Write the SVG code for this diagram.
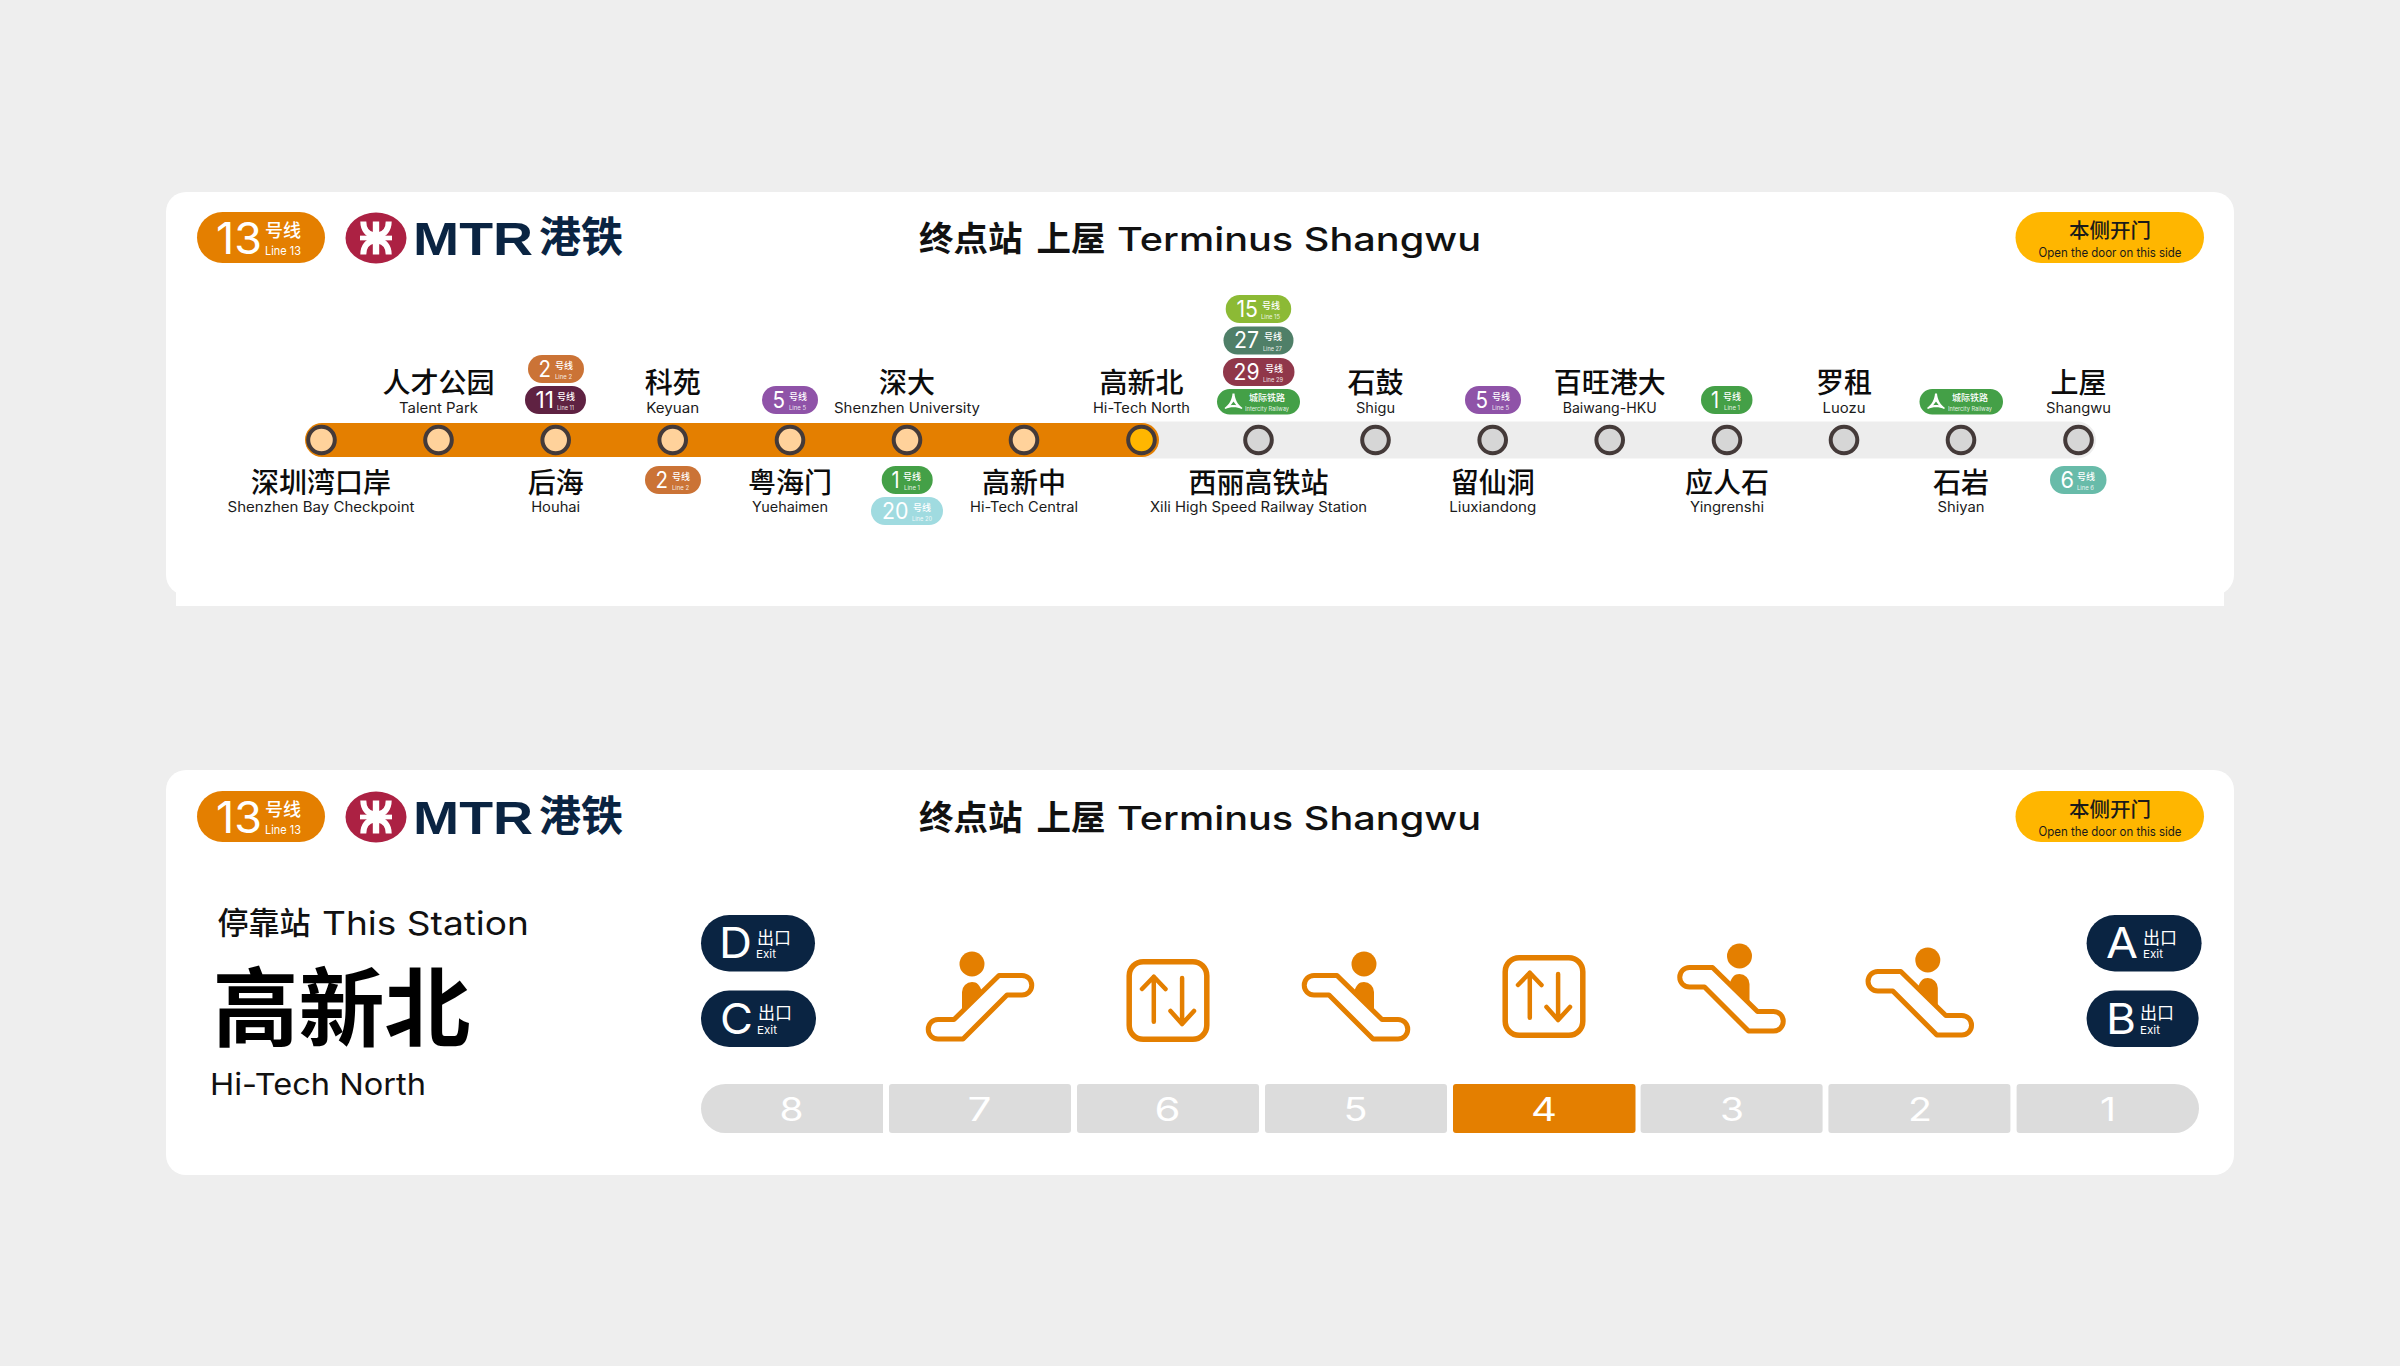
<svg xmlns="http://www.w3.org/2000/svg" width="2400" height="1366" viewBox="0 0 2400 1366">
<style>
.l{font-family:Inter,"Liberation Sans",sans-serif;font-weight:400}
.c{font-family:"Noto Sans CJK SC","Noto Sans",sans-serif;font-weight:500}
.cn{font-size:28px;fill:#0c0c0c;text-anchor:middle;font-weight:500}
.en{font-size:14px;fill:#1a1a1a;text-anchor:middle}
.bd{font-size:23px;fill:#fff}
.bc{font-size:9px;fill:#fff}
.bl{font-size:5.5px;fill:#fff;opacity:.85}
.st{stroke:#443a39;stroke-width:4}
.sa{fill:#ffd29b}.sg{fill:#d6d6d6}
.ex{fill:#0a2442}
.xl{font-size:43px;fill:#fff}
.xc{font-size:17px;fill:#fff;font-weight:400}
.xe{font-size:11px;fill:#fff}
.fl{fill:#dcdcdc}
.fn{font-size:32px;fill:#fff;text-anchor:middle}
.ic{fill:none;stroke:#e47f00;stroke-width:5;stroke-linejoin:round;stroke-linecap:round}
.if{fill:#e47f00}
</style>
<defs>
<g id="esc">
<path class="ic" d="M-42,19.5H-26L19,-24.5H42A9.75,9.75 0 0 1 42,-5H27L-17,39H-42A9.75,9.75 0 0 1 -42,19.5Z"/>
<ellipse class="if" cx="-8" cy="-36" rx="12.5" ry="12.5"/>
<path class="if" d="M-18,11V-8A10,10 0 0 1 -8,-18C-3,-18 0,-15 2.5,-7Z"/>
</g>
<g id="lift">
<rect class="ic" style="stroke-width:5.5" x="2.7" y="2.7" width="77.6" height="77.6" rx="14"/>
<path class="ic" style="stroke-width:4.5" d="M27.3,62.7V17.7M15.5,30L27.3,17.7L39,30M55.6,19V65M44,52L55.6,65L67.5,52"/>
</g>
<g id="logo">
<ellipse cx="0" cy="0" rx="30.5" ry="25.5" fill="#ac2143"/>
<path d="M0,-16.5V16.5" stroke="#fff" stroke-width="6.4" fill="none"/>
<path d="M-16,0H16" stroke="#fff" stroke-width="4.7" fill="none"/>
<path d="M-12.7,-16.5C-12.7,-8 -8,-3.5 -2,-2.5M12.7,-16.5C12.7,-8 8,-3.5 2,-2.5M-12.7,16.5C-12.7,8 -8,3.5 -2,2.5M12.7,16.5C12.7,8 8,3.5 2,2.5" stroke="#fff" stroke-width="6" fill="none"/>
</g>
<path id="ir" fill-rule="evenodd" fill="#fff" d="M-1,-8H1C1.5,-2 4,3 9,6.5L8,7.5C4,5 -4,5 -8,7.5L-9,6.5C-4,3 -1.5,-2 -1,-8ZM0,0L2.8,3.7C1,3.3 -1,3.3 -2.8,3.7Z"/>
</defs>
<rect width="2400" height="1366" fill="#eeeeee"/>

<g id="card-top">
<rect x="176" y="400" width="2048" height="206" fill="#fff"/>
<rect x="166" y="192" width="2068" height="403" rx="20" fill="#fff"/>
</g>
<g id="card-bottom">
<rect x="166" y="770" width="2068" height="405" rx="20" fill="#fff"/>
</g>

<g id="header-top">
<rect x="197" y="212" width="128" height="51" rx="25.5" fill="#e47f00"/>
<text class="l" x="216" y="254" font-size="44" fill="#fff" textLength="46" lengthAdjust="spacingAndGlyphs">13</text>
<text class="c" x="265" y="237" font-size="18" fill="#fff">号线</text>
<text class="l" x="265" y="255" font-size="12" fill="#fff" textLength="36" lengthAdjust="spacingAndGlyphs">Line 13</text>
<use href="#logo" x="376" y="238"/>
<text x="413" y="255" font-family="'Liberation Sans',sans-serif" font-weight="700" font-size="46" fill="#0a2442" textLength="120" lengthAdjust="spacingAndGlyphs">MTR</text>
<text class="c" x="539" y="252" font-size="42" fill="#0a2442" style="font-weight:700">港铁</text>
<text class="c" x="919" y="251" font-size="34.5" fill="#111" style="font-weight:700">终点站</text>
<text class="c" x="1036.5" y="251" font-size="34.5" fill="#111" style="font-weight:700">上屋</text>
<text class="l" x="1117" y="251" font-size="33" fill="#111" style="font-weight:500" textLength="364" lengthAdjust="spacingAndGlyphs">Terminus Shangwu</text>
<rect x="2015.5" y="212" width="188.5" height="51" rx="25.5" fill="#ffb600"/>
<text class="c" x="2110" y="238" font-size="20.5" fill="#1a1a1a" text-anchor="middle">本侧开门</text>
<text class="l" x="2110" y="256.5" font-size="12.5" fill="#1a1a1a" text-anchor="middle" textLength="143" lengthAdjust="spacingAndGlyphs">Open the door on this side</text>
</g>

<g id="connectors">
<rect x="1130" y="421.5" width="966" height="37" rx="18.5" fill="#ededed"/>
<rect x="305" y="423" width="854" height="34" rx="17" fill="#e47f00"/>
</g>

<g id="s1"><circle class="st sa" cx="321.5" cy="440" r="13.3"/><text class="c cn" x="321" y="492.5">深圳湾口岸</text><text class="l en" x="321" y="512" textLength="187" lengthAdjust="spacingAndGlyphs">Shenzhen Bay Checkpoint</text></g>
<g id="s2"><circle class="st sa" cx="438.5" cy="440" r="13.3"/><text class="c cn" x="438.5" y="393">人才公园</text><text class="l en" x="438.5" y="413" textLength="79" lengthAdjust="spacingAndGlyphs">Talent Park</text></g>
<g id="s3"><circle class="st sa" cx="555.7" cy="440" r="13.3"/><text class="c cn" x="555.7" y="492.5">后海</text><text class="l en" x="555.7" y="512" textLength="49" lengthAdjust="spacingAndGlyphs">Houhai</text></g>
<g id="s4"><circle class="st sa" cx="672.7" cy="440" r="13.3"/><text class="c cn" x="672.7" y="393">科苑</text><text class="l en" x="672.7" y="413" textLength="53" lengthAdjust="spacingAndGlyphs">Keyuan</text></g>
<g id="s5"><circle class="st sa" cx="790" cy="440" r="13.3"/><text class="c cn" x="790" y="492.5">粤海门</text><text class="l en" x="790" y="512" textLength="76" lengthAdjust="spacingAndGlyphs">Yuehaimen</text></g>
<g id="s6"><circle class="st sa" cx="907" cy="440" r="13.3"/><text class="c cn" x="907" y="393">深大</text><text class="l en" x="907" y="413" textLength="146" lengthAdjust="spacingAndGlyphs">Shenzhen University</text></g>
<g id="s7"><circle class="st sa" cx="1024" cy="440" r="13.3"/><text class="c cn" x="1024" y="492.5">高新中</text><text class="l en" x="1024" y="512" textLength="108" lengthAdjust="spacingAndGlyphs">Hi-Tech Central</text></g>
<g id="s8"><circle class="st" fill="#ffb600" cx="1141.5" cy="440" r="13.3"/><text class="c cn" x="1141.5" y="393">高新北</text><text class="l en" x="1141.5" y="413" textLength="97" lengthAdjust="spacingAndGlyphs">Hi-Tech North</text></g>
<g id="s9"><circle class="st sg" cx="1258.5" cy="440" r="13.3"/><text class="c cn" x="1258.5" y="492.5">西丽高铁站</text><text class="l en" x="1258.5" y="512" textLength="217" lengthAdjust="spacingAndGlyphs">Xili High Speed Railway Station</text></g>
<g id="s10"><circle class="st sg" cx="1375.5" cy="440" r="13.3"/><text class="c cn" x="1375.5" y="393">石鼓</text><text class="l en" x="1375.5" y="413" textLength="39" lengthAdjust="spacingAndGlyphs">Shigu</text></g>
<g id="s11"><circle class="st sg" cx="1492.7" cy="440" r="13.3"/><text class="c cn" x="1492.7" y="492.5">留仙洞</text><text class="l en" x="1492.7" y="512" textLength="87" lengthAdjust="spacingAndGlyphs">Liuxiandong</text></g>
<g id="s12"><circle class="st sg" cx="1609.7" cy="440" r="13.3"/><text class="c cn" x="1609.7" y="393">百旺港大</text><text class="l en" x="1609.7" y="413" textLength="94" lengthAdjust="spacingAndGlyphs">Baiwang-HKU</text></g>
<g id="s13"><circle class="st sg" cx="1727" cy="440" r="13.3"/><text class="c cn" x="1727" y="492.5">应人石</text><text class="l en" x="1727" y="512" textLength="74" lengthAdjust="spacingAndGlyphs">Yingrenshi</text></g>
<g id="s14"><circle class="st sg" cx="1844" cy="440" r="13.3"/><text class="c cn" x="1844" y="393">罗租</text><text class="l en" x="1844" y="413" textLength="43" lengthAdjust="spacingAndGlyphs">Luozu</text></g>
<g id="s15"><circle class="st sg" cx="1961" cy="440" r="13.3"/><text class="c cn" x="1961" y="492.5">石岩</text><text class="l en" x="1961" y="512" textLength="47" lengthAdjust="spacingAndGlyphs">Shiyan</text></g>
<g id="s16"><circle class="st sg" cx="2078.5" cy="440" r="13.3"/><text class="c cn" x="2078.5" y="393">上屋</text><text class="l en" x="2078.5" y="413" textLength="65" lengthAdjust="spacingAndGlyphs">Shangwu</text></g>

<g id="b-2a"><rect x="528" y="355" width="56" height="28" rx="14" fill="#cb7336"/><text class="l bd" x="538.5" y="376.5" textLength="12.5" lengthAdjust="spacingAndGlyphs">2</text><text class="c bc" x="555" y="368.5">号线</text><text class="l bl" x="555" y="379" textLength="17" lengthAdjust="spacingAndGlyphs">Line 2</text></g>
<g id="b-11"><rect x="525" y="386" width="61" height="28" rx="14" fill="#5f2242"/><text class="l bd" x="535.5" y="407.5" textLength="18.5" lengthAdjust="spacingAndGlyphs">11</text><text class="c bc" x="557" y="399.5">号线</text><text class="l bl" x="557" y="410" textLength="17" lengthAdjust="spacingAndGlyphs">Line 11</text></g>
<g id="b-5a"><rect x="762" y="386" width="56" height="28" rx="14" fill="#8f53a8"/><text class="l bd" x="772.5" y="407.5" textLength="12.5" lengthAdjust="spacingAndGlyphs">5</text><text class="c bc" x="789" y="399.5">号线</text><text class="l bl" x="789" y="410" textLength="17" lengthAdjust="spacingAndGlyphs">Line 5</text></g>
<g id="b-2b"><rect x="645" y="466" width="56" height="28" rx="14" fill="#cb7336"/><text class="l bd" x="655.5" y="487.5" textLength="12.5" lengthAdjust="spacingAndGlyphs">2</text><text class="c bc" x="672" y="479.5">号线</text><text class="l bl" x="672" y="490" textLength="17" lengthAdjust="spacingAndGlyphs">Line 2</text></g>
<g id="b-1a"><rect x="881.7" y="466" width="51" height="28" rx="14" fill="#44a047"/><text class="l bd" x="891.5" y="487.5" textLength="8" lengthAdjust="spacingAndGlyphs">1</text><text class="c bc" x="903" y="479.5">号线</text><text class="l bl" x="904" y="490" textLength="16" lengthAdjust="spacingAndGlyphs">Line 1</text></g>
<g id="b-20"><rect x="871" y="497" width="72" height="28" rx="14" fill="#a0dbe0"/><text class="l bd" x="882" y="518.5" textLength="26.5" lengthAdjust="spacingAndGlyphs">20</text><text class="c bc" x="913" y="510.5">号线</text><text class="l bl" x="912" y="521" textLength="20" lengthAdjust="spacingAndGlyphs">Line 20</text></g>
<g id="b-15"><rect x="1225.7" y="295" width="65.5" height="28" rx="14" fill="#8cba35"/><text class="l bd" x="1236.5" y="316.5" textLength="21.5" lengthAdjust="spacingAndGlyphs">15</text><text class="c bc" x="1262" y="308.5">号线</text><text class="l bl" x="1261" y="319" textLength="19" lengthAdjust="spacingAndGlyphs">Line 15</text></g>
<g id="b-27"><rect x="1223.5" y="326.5" width="70" height="28" rx="14" fill="#4f7f68"/><text class="l bd" x="1234" y="348" textLength="25" lengthAdjust="spacingAndGlyphs">27</text><text class="c bc" x="1264" y="340">号线</text><text class="l bl" x="1263" y="350.5" textLength="19" lengthAdjust="spacingAndGlyphs">Line 27</text></g>
<g id="b-29"><rect x="1223" y="358" width="71.5" height="28" rx="14" fill="#90374a"/><text class="l bd" x="1233.5" y="379.5" textLength="26" lengthAdjust="spacingAndGlyphs">29</text><text class="c bc" x="1265" y="371.5">号线</text><text class="l bl" x="1263" y="382" textLength="20" lengthAdjust="spacingAndGlyphs">Line 29</text></g>
<g id="b-ic1"><rect x="1217" y="389" width="83" height="25.5" rx="12.7" fill="#44a047"/><use href="#ir" x="1233.5" y="401.5"/><text class="c bc" x="1249" y="401">城际铁路</text><text class="l bl" x="1245" y="410.5" textLength="44" lengthAdjust="spacingAndGlyphs">Intercity Railway</text></g>
<g id="b-5b"><rect x="1465" y="386" width="56" height="28" rx="14" fill="#8f53a8"/><text class="l bd" x="1475.5" y="407.5" textLength="12.5" lengthAdjust="spacingAndGlyphs">5</text><text class="c bc" x="1492" y="399.5">号线</text><text class="l bl" x="1492" y="410" textLength="17" lengthAdjust="spacingAndGlyphs">Line 5</text></g>
<g id="b-1b"><rect x="1701" y="386" width="51.5" height="28" rx="14" fill="#44a047"/><text class="l bd" x="1711" y="407.5" textLength="8" lengthAdjust="spacingAndGlyphs">1</text><text class="c bc" x="1723" y="399.5">号线</text><text class="l bl" x="1724" y="410" textLength="16" lengthAdjust="spacingAndGlyphs">Line 1</text></g>
<g id="b-ic2"><rect x="1919.5" y="389" width="83.5" height="25.5" rx="12.7" fill="#44a047"/><use href="#ir" x="1936" y="401.5"/><text class="c bc" x="1952" y="401">城际铁路</text><text class="l bl" x="1948" y="410.5" textLength="44" lengthAdjust="spacingAndGlyphs">Intercity Railway</text></g>
<g id="b-6"><rect x="2050" y="466" width="56.5" height="28" rx="14" fill="#68bba9"/><text class="l bd" x="2060.5" y="487.5" textLength="13.5" lengthAdjust="spacingAndGlyphs">6</text><text class="c bc" x="2077" y="479.5">号线</text><text class="l bl" x="2077" y="490" textLength="17" lengthAdjust="spacingAndGlyphs">Line 6</text></g>

<g id="header-bottom">
<rect x="197" y="791" width="128" height="51" rx="25.5" fill="#e47f00"/>
<text class="l" x="216" y="833" font-size="44" fill="#fff" textLength="46" lengthAdjust="spacingAndGlyphs">13</text>
<text class="c" x="265" y="816" font-size="18" fill="#fff">号线</text>
<text class="l" x="265" y="834" font-size="12" fill="#fff" textLength="36" lengthAdjust="spacingAndGlyphs">Line 13</text>
<use href="#logo" x="376" y="817"/>
<text x="413" y="834" font-family="'Liberation Sans',sans-serif" font-weight="700" font-size="46" fill="#0a2442" textLength="120" lengthAdjust="spacingAndGlyphs">MTR</text>
<text class="c" x="539" y="831" font-size="42" fill="#0a2442" style="font-weight:700">港铁</text>
<text class="c" x="919" y="830" font-size="34.5" fill="#111" style="font-weight:700">终点站</text>
<text class="c" x="1036.5" y="830" font-size="34.5" fill="#111" style="font-weight:700">上屋</text>
<text class="l" x="1117" y="830" font-size="33" fill="#111" style="font-weight:500" textLength="364" lengthAdjust="spacingAndGlyphs">Terminus Shangwu</text>
<rect x="2015.5" y="791" width="188.5" height="51" rx="25.5" fill="#ffb600"/>
<text class="c" x="2110" y="817" font-size="20.5" fill="#1a1a1a" text-anchor="middle">本侧开门</text>
<text class="l" x="2110" y="835.5" font-size="12.5" fill="#1a1a1a" text-anchor="middle" textLength="143" lengthAdjust="spacingAndGlyphs">Open the door on this side</text>
</g>

<g id="this-station">
<text class="c" x="217.5" y="934" font-size="31" fill="#111">停靠站</text>
<text class="l" x="322" y="935" font-size="33" fill="#111" textLength="207" lengthAdjust="spacingAndGlyphs">This Station</text>
<text class="c" x="212.5" y="1040" font-size="86" fill="#000" style="font-weight:700">高新北</text>
<text class="l" x="210" y="1095" font-size="30" fill="#111" textLength="216" lengthAdjust="spacingAndGlyphs">Hi-Tech North</text>
</g>

<g id="exit-d"><rect class="ex" x="701" y="915" width="114" height="56.5" rx="28.2"/><text class="l xl" x="719" y="958" textLength="33" lengthAdjust="spacingAndGlyphs">D</text><text class="c xc" x="757" y="943.5">出口</text><text class="l xe" x="756" y="958" textLength="20" lengthAdjust="spacingAndGlyphs">Exit</text></g>
<g id="exit-c"><rect class="ex" x="701" y="990.5" width="115" height="56.5" rx="28.2"/><text class="l xl" x="720" y="1033.5" textLength="33" lengthAdjust="spacingAndGlyphs">C</text><text class="c xc" x="758" y="1019">出口</text><text class="l xe" x="757" y="1033.5" textLength="20" lengthAdjust="spacingAndGlyphs">Exit</text></g>
<g id="exit-a"><rect class="ex" x="2086.6" y="915" width="115" height="56.5" rx="28.2"/><text class="l xl" x="2106" y="958" textLength="32" lengthAdjust="spacingAndGlyphs">A</text><text class="c xc" x="2143" y="943.5">出口</text><text class="l xe" x="2143" y="958" textLength="20" lengthAdjust="spacingAndGlyphs">Exit</text></g>
<g id="exit-b"><rect class="ex" x="2086.6" y="990.5" width="112" height="56.5" rx="28.2"/><text class="l xl" x="2106" y="1033.5" textLength="30" lengthAdjust="spacingAndGlyphs">B</text><text class="c xc" x="2140" y="1019">出口</text><text class="l xe" x="2140" y="1033.5" textLength="20" lengthAdjust="spacingAndGlyphs">Exit</text></g>

<g id="icon-7"><use href="#esc" transform="translate(980,1000)"/></g>
<g id="icon-6"><use href="#lift" transform="translate(1126.5,959)"/></g>
<g id="icon-5"><use href="#esc" transform="translate(1356,1000) scale(-1,1)"/></g>
<g id="icon-4"><use href="#lift" transform="translate(1502.5,955)"/></g>
<g id="icon-3"><use href="#esc" transform="translate(1731.5,992) scale(-1,1)"/></g>
<g id="icon-2"><use href="#esc" transform="translate(1919.8,996) scale(-1,1)"/></g>

<g id="floors">
<path class="fl" d="M883,1084V1133H725.5A24.5,24.5 0 0 1 725.5,1084Z"/>
<rect class="fl" x="889" y="1084" width="182" height="49" rx="3"/>
<rect class="fl" x="1077" y="1084" width="182" height="49" rx="3"/>
<rect class="fl" x="1265" y="1084" width="182" height="49" rx="3"/>
<rect x="1453" y="1084" width="182.5" height="49" rx="3" fill="#e47f00"/>
<rect class="fl" x="1640.6" y="1084" width="182" height="49" rx="3"/>
<rect class="fl" x="1828.4" y="1084" width="182" height="49" rx="3"/>
<path class="fl" d="M2016.6,1087a3,3 0 0 1 3,-3H2174.5A24.5,24.5 0 0 1 2174.5,1133H2019.6a3,3 0 0 1 -3,-3Z"/>
<text class="l fn" x="791.5" y="1120.5" textLength="24" lengthAdjust="spacingAndGlyphs">8</text>
<text class="l fn" x="979.5" y="1120.5" textLength="24" lengthAdjust="spacingAndGlyphs">7</text>
<text class="l fn" x="1167.5" y="1120.5" textLength="26" lengthAdjust="spacingAndGlyphs">6</text>
<text class="l fn" x="1355.5" y="1120.5" textLength="24" lengthAdjust="spacingAndGlyphs">5</text>
<text class="l fn" x="1544" y="1120.5" textLength="26" lengthAdjust="spacingAndGlyphs">4</text>
<text class="l fn" x="1732" y="1120.5" textLength="24" lengthAdjust="spacingAndGlyphs">3</text>
<text class="l fn" x="1920" y="1120.5" textLength="24" lengthAdjust="spacingAndGlyphs">2</text>
<text class="l fn" x="2108" y="1120.5" textLength="16" lengthAdjust="spacingAndGlyphs">1</text>
</g>
</svg>
